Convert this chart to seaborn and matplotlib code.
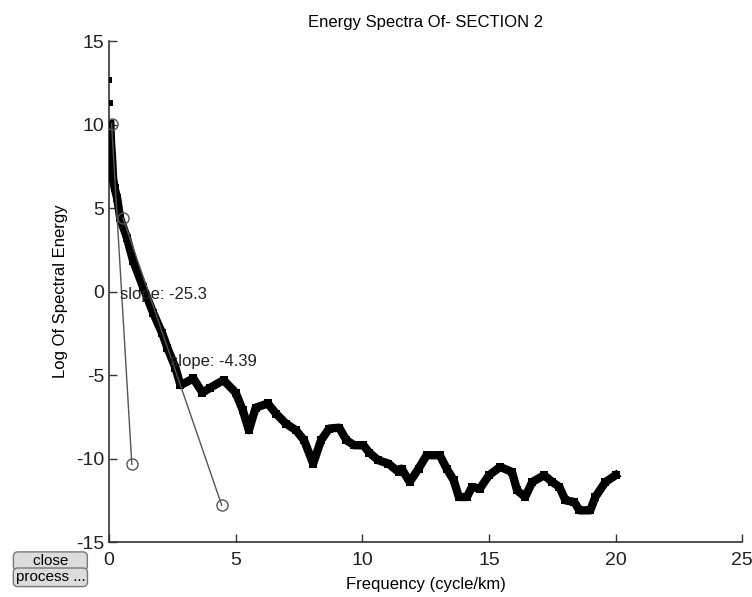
import numpy as np
import pandas as pd
import matplotlib
matplotlib.use('Agg')
import matplotlib.pyplot as plt
import seaborn as sns

# ─── Datos ─────────────────────────────────────────────────────────────────
freq_top   = [0.0, 0.02]
energy_top = [12.7, 11.3]

freq = [0.05, 0.08, 0.12, 0.16, 0.22, 0.32, 0.44, 0.71, 0.95, 1.35, 1.75,
        2.1, 2.3, 2.62, 2.82, 3.33, 3.69, 4.0, 4.52, 5.0, 5.28, 5.52,
        5.79, 6.27, 6.59, 6.98, 7.38, 7.7, 8.06, 8.37, 8.69, 9.09, 9.37,
        9.68, 10.04, 10.28, 10.63, 11.03, 11.43, 11.55, 11.87, 12.22,
        12.54, 13.06, 13.33, 13.61, 13.81, 14.13, 14.33, 14.64, 15.0,
        15.44, 15.91, 16.11, 16.43, 16.71, 17.18, 17.5, 17.78, 18.02,
        18.37, 18.57, 19.0, 19.2, 19.6, 20.0]
energy = [10.05, 8.9, 8.0, 6.8, 6.2, 5.6, 4.4, 3.2, 1.85, 0.25, -1.3,
          -2.5, -3.35, -4.55, -5.6, -5.2, -6.05, -5.75, -5.3, -6.05, -7.1,
          -8.3, -6.95, -6.7, -7.3, -7.9, -8.3, -8.9, -10.3, -8.9, -8.2,
          -8.15, -8.9, -9.2, -9.2, -9.65, -10.1, -10.3, -10.8, -10.6,
          -11.4, -10.6, -9.8, -9.8, -10.6, -11.3, -12.3, -12.3, -11.7,
          -11.8, -11.0, -10.5, -10.8, -11.9, -12.3, -11.4, -11.0, -11.4,
          -11.7, -12.5, -12.6, -13.1, -13.1, -12.3, -11.4, -11.0]

# Rectas de ajuste (extremos marcados con círculos)
fit1_x = [0.1, 0.9]
fit1_y = [10.05, -10.35]
fit2_x = [0.55, 4.45]
fit2_y = [4.4, -12.8]
slopes = ['slope: -25.3', 'slope: -4.39']

FONT = 'Liberation Sans'
plt.rcParams['font.family'] = FONT
plt.rcParams['axes.unicode_minus'] = False

fig = plt.figure(figsize=(7.52, 5.97), dpi=100)
ax = fig.add_axes([0.145, 0.092, 0.842, 0.839])

df = pd.DataFrame({'f': freq, 'e': energy})
sns.lineplot(data=df, x='f', y='e', ax=ax, color='black', linewidth=6,
             marker='s', markersize=6, markeredgewidth=0, zorder=3)
sns.scatterplot(x=freq_top, y=energy_top, ax=ax, color='black', marker='s',
                s=20, linewidth=0, zorder=3)

for fx, fy, lab in [(fit1_x, fit1_y, slopes[0]), (fit2_x, fit2_y, slopes[1])]:
    sns.lineplot(x=fx, y=fy, ax=ax, color='#555555', linewidth=1,
                 marker='o', markersize=8, markerfacecolor='none',
                 markeredgecolor='#555555', markeredgewidth=1, zorder=4)
    ax.text(np.mean(fx) - 0.08, np.mean(fy), lab, ha='left', va='center',
            fontsize=12, color='#222222', zorder=5)

ax.set_xlim(0, 25)
ax.set_ylim(-15, 15)
ax.set_xticks([0, 5, 10, 15, 20, 25])
ax.set_yticks([-15, -10, -5, 0, 5, 10, 15])
ax.tick_params(direction='in', length=6, width=1, labelsize=14,
               colors='#333333', labelcolor='#222222')
ax.tick_params(axis='x', pad=7)
for s in ['top', 'right']:
    ax.spines[s].set_visible(False)
for s in ['left', 'bottom']:
    ax.spines[s].set_linewidth(1.2)
    ax.spines[s].set_color('#333333')

ax.set_xlabel('Frequency (cycle/km)', fontsize=12, labelpad=6)
ax.set_ylabel('Log Of Spectral Energy', fontsize=12, labelpad=6)
ax.set_title('Energy Spectra Of- SECTION 2', fontsize=12, pad=10)

# Botones de la interfaz
btn = dict(boxstyle='round,pad=0.15,rounding_size=0.3', fc='#dcdcdc',
           ec='#777777', lw=1)
fig.text(0.067, 0.06, '    close    ', ha='center', va='center', fontsize=11,
         bbox=btn)
fig.text(0.067, 0.033, 'process ...', ha='center', va='center', fontsize=11,
         bbox=btn)

fig.savefig('out.png', dpi=100)
